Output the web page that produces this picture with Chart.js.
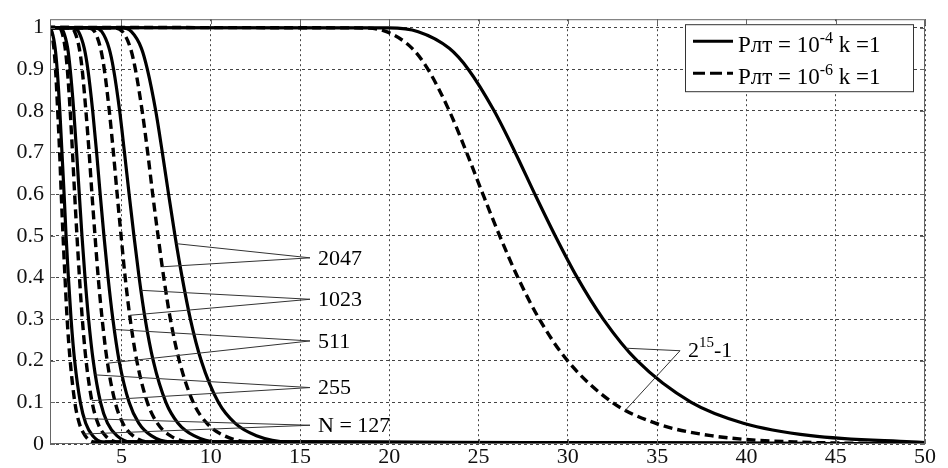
<!DOCTYPE html>
<html>
<head>
<meta charset="utf-8">
<script src="https://cdn.jsdelivr.net/npm/chart.js@4.4.0/dist/chart.umd.min.js"></script>
<style>
  html, body { margin: 0; padding: 0; background: #fff; }
  #wrap { width: 948px; height: 468px; position: relative; }
</style>
</head>
<body>
<div id="wrap"><canvas id="chart"></canvas></div>
<script>
// probability levels; each curve below gives the x where it reaches that level
const yLevels = [1, 0.999, 0.99, 0.95, 0.9, 0.8, 0.7, 0.6, 0.5, 0.4, 0.3, 0.2, 0.1, 0.05, 0.02, 0.005, 0];

// solid: Рлт = 1e-4, dashed: Рлт = 1e-6
const x127d   = [0, 0.92, 1.07, 1.22, 1.31, 1.43, 1.54, 1.63, 1.73, 1.84, 1.96, 2.13, 2.39, 2.64, 2.97, 3.45, 52];
const x127s   = [0, 0.94, 1.11, 1.29, 1.40, 1.55, 1.67, 1.79, 1.90, 2.03, 2.18, 2.38, 2.70, 3.00, 3.39, 3.97, 52];
const x255d   = [0, 1.48, 1.66, 1.85, 1.97, 2.13, 2.26, 2.38, 2.51, 2.65, 2.81, 3.02, 3.36, 3.68, 4.10, 4.73, 52];
const x255s   = [0, 1.53, 1.75, 1.99, 2.13, 2.33, 2.49, 2.64, 2.79, 2.96, 3.16, 3.42, 3.83, 4.22, 4.74, 5.50, 52];
const x511d   = [0, 2.14, 2.38, 2.64, 2.80, 3.01, 3.19, 3.35, 3.52, 3.70, 3.92, 4.20, 4.65, 5.08, 5.64, 6.48, 52];
const x511s   = [0, 2.30, 2.60, 2.92, 3.12, 3.39, 3.61, 3.81, 4.02, 4.25, 4.52, 4.87, 5.43, 5.97, 6.67, 7.72, 52];
const x1023d  = [0, 3.18, 3.50, 3.83, 4.04, 4.32, 4.55, 4.76, 4.98, 5.21, 5.49, 5.86, 6.45, 7.01, 7.73, 8.82, 52];
const x1023s  = [0, 3.51, 3.90, 4.31, 4.56, 4.90, 5.17, 5.43, 5.70, 5.99, 6.33, 6.78, 7.49, 8.17, 9.06, 10.38, 52];
const x2047d  = [0, 4.63, 5.06, 5.51, 5.78, 6.16, 6.47, 6.75, 7.05, 7.37, 7.74, 8.24, 9.02, 9.78, 10.76, 12.22, 52];
const x2047s  = [0, 5.04, 5.56, 6.12, 6.45, 6.92, 7.29, 7.64, 8.00, 8.40, 8.86, 9.47, 10.43, 11.36, 12.56, 14.36, 52];
const x32767d = [0, 18.47, 19.84, 21.28, 22.16, 23.36, 24.33, 25.24, 26.18, 27.20, 28.40, 29.98, 32.49, 34.90, 38.02, 42.69, 52];
const x32767s = [0, 19.97, 21.62, 23.36, 24.42, 25.87, 27.05, 28.15, 29.29, 30.52, 31.98, 33.88, 36.91, 39.83, 43.60, 49.25, 52];

const solidCurves = [x127s, x255s, x511s, x1023s, x2047s, x32767s];
const dashedCurves = [x127d, x255d, x511d, x1023d, x2047d, x32767d];

const xTicks = [5, 10, 15, 20, 25, 30, 35, 40, 45, 50];
const xTickLabels = ['5', '10', '15', '20', '25', '30', '35', '40', '45', '50'];
const yTicks = [0, 0.1, 0.2, 0.3, 0.4, 0.5, 0.6, 0.7, 0.8, 0.9, 1];
const yTickLabels = ['0', '0.1', '0.2', '0.3', '0.4', '0.5', '0.6', '0.7', '0.8', '0.9', '1'];

// legend text parts: normal, superscript, normal
const legendParts = [['Рлт = 10', '-4', ' k =1'], ['Рлт = 10', '-6', ' k =1']];

// curve labels with leader lines (anchor and the two curve points, data units)
const annText = [['2047'], ['1023'], ['511'], ['255'], ['N = 127'], ['2', '15', '-1']];
const annAnchor = [[15.56, 0.447], [15.56, 0.3475], [15.56, 0.2475], [15.56, 0.1355], [15.56, 0.045], [36.28, 0.224]];
const annSolidEnd = [[8.08, 0.481], [6.09, 0.369], [4.60, 0.275], [3.53, 0.166], [2.91, 0.061], [33.25, 0.23]];
const annDashEnd = [[7.28, 0.4255], [5.47, 0.309], [4.22, 0.194], [3.34, 0.104], [2.91, 0.024], [33.2, 0.08]];

const FONT = "'Liberation Serif', 'Times New Roman', serif";

function toPoints(xs) {
  return xs.map((x, i) => ({ x: x, y: yLevels[i] }));
}

const datasets = [];
solidCurves.forEach((xs) => {
  datasets.push({ data: toPoints(xs), borderColor: '#000', borderWidth: 3.2, borderDash: [] });
});
dashedCurves.forEach((xs) => {
  datasets.push({ data: toPoints(xs), borderColor: '#000', borderWidth: 3.4, borderDash: [9, 5] });
});

// draws text where odd parts are superscripts
function drawRich(ctx, parts, x, y, size) {
  let cx = x;
  parts.forEach((t, i) => {
    const sup = i % 2 === 1;
    ctx.font = (sup ? Math.round(size * 0.68) : size) + 'px ' + FONT;
    ctx.fillText(t, cx, sup ? y - size * 0.38 : y);
    cx += ctx.measureText(t).width;
  });
}

const overlay = {
  id: 'overlay',
  afterDatasetsDraw(chart) {
    const { ctx, chartArea: a, scales } = chart;
    const sx = scales.x, sy = scales.y;
    ctx.save();

    // frame and inward tick marks
    ctx.strokeStyle = '#666';
    ctx.lineWidth = 1;
    ctx.setLineDash([]);
    ctx.strokeRect(a.left + 0.5, a.top + 0.5, a.right - a.left - 1, a.bottom - a.top - 1);
    ctx.beginPath();
    xTicks.forEach((v) => {
      const px = Math.round(sx.getPixelForValue(v)) + 0.5;
      ctx.moveTo(px, a.bottom); ctx.lineTo(px, a.bottom - 5);
      ctx.moveTo(px, a.top); ctx.lineTo(px, a.top + 5);
    });
    yTicks.forEach((v) => {
      const py = Math.round(sy.getPixelForValue(v)) + 0.5;
      ctx.moveTo(a.left, py); ctx.lineTo(a.left + 5, py);
      ctx.moveTo(a.right, py); ctx.lineTo(a.right - 5, py);
    });
    ctx.stroke();

    // leader lines + labels
    ctx.strokeStyle = '#333';
    ctx.lineWidth = 1;
    ctx.fillStyle = '#000';
    ctx.textBaseline = 'middle';
    annText.forEach((parts, i) => {
      const ax = sx.getPixelForValue(annAnchor[i][0]);
      const ay = sy.getPixelForValue(annAnchor[i][1]);
      ctx.beginPath();
      [annSolidEnd[i], annDashEnd[i]].forEach((p) => {
        ctx.moveTo(ax, ay);
        ctx.lineTo(sx.getPixelForValue(p[0]), sy.getPixelForValue(p[1]));
      });
      ctx.stroke();
      drawRich(ctx, parts, ax + 8, ay + 1, 22);
    });

    // legend box
    const bw = 228, bh = 67;
    const bx = a.right - 12 - bw, by = a.top + 5;
    ctx.fillStyle = '#fff';
    ctx.fillRect(bx, by, bw, bh);
    ctx.strokeStyle = '#333';
    ctx.strokeRect(bx + 0.5, by + 0.5, bw, bh);
    ctx.textBaseline = 'alphabetic';
    legendParts.forEach((parts, i) => {
      const ly = by + 17 + i * 32;
      ctx.strokeStyle = '#000';
      ctx.lineWidth = 3;
      ctx.setLineDash(i === 0 ? [] : [12, 5]);
      ctx.beginPath();
      ctx.moveTo(bx + 8, ly);
      ctx.lineTo(bx + 48, ly);
      ctx.stroke();
      ctx.setLineDash([]);
      ctx.fillStyle = '#000';
      drawRich(ctx, parts, bx + 53, ly + 11, 23);
    });
    ctx.restore();
  }
};

new Chart(document.getElementById('chart'), {
  type: 'line',
  data: { datasets: datasets },
  options: {
    responsive: true,
    maintainAspectRatio: false,
    animation: false,
    events: [],
    layout: { padding: { top: 12, right: 23, left: 0, bottom: 0 } },
    elements: {
      point: { radius: 0 },
      line: { cubicInterpolationMode: 'monotone', borderCapStyle: 'butt' }
    },
    plugins: { legend: { display: false }, tooltip: { enabled: false } },
    scales: {
      x: {
        type: 'linear',
        min: 1,
        max: 50,
        afterBuildTicks: (s) => { s.ticks = xTicks.map((v) => ({ value: v })); },
        afterFit: (s) => { s.height = 24; },
        ticks: {
          callback: (v, i) => xTickLabels[i],
          font: { family: FONT, size: 22 },
          color: '#111',
          padding: 0,
          maxRotation: 0,
          autoSkip: false
        },
        grid: { color: '#444', lineWidth: 1, drawTicks: false },
        border: { display: false, dash: [2, 3] }
      },
      y: {
        type: 'linear',
        min: 0,
        max: 1.02,
        afterBuildTicks: (s) => { s.ticks = yTicks.map((v) => ({ value: v })); },
        afterFit: (s) => { s.width = 50; },
        ticks: {
          callback: (v, i) => yTickLabels[i],
          font: { family: FONT, size: 22 },
          color: '#111',
          padding: 6
        },
        grid: { color: '#444', lineWidth: 1, drawTicks: false },
        border: { display: false, dash: [3, 3] }
      }
    }
  },
  plugins: [overlay]
});
</script>
</body>
</html>
